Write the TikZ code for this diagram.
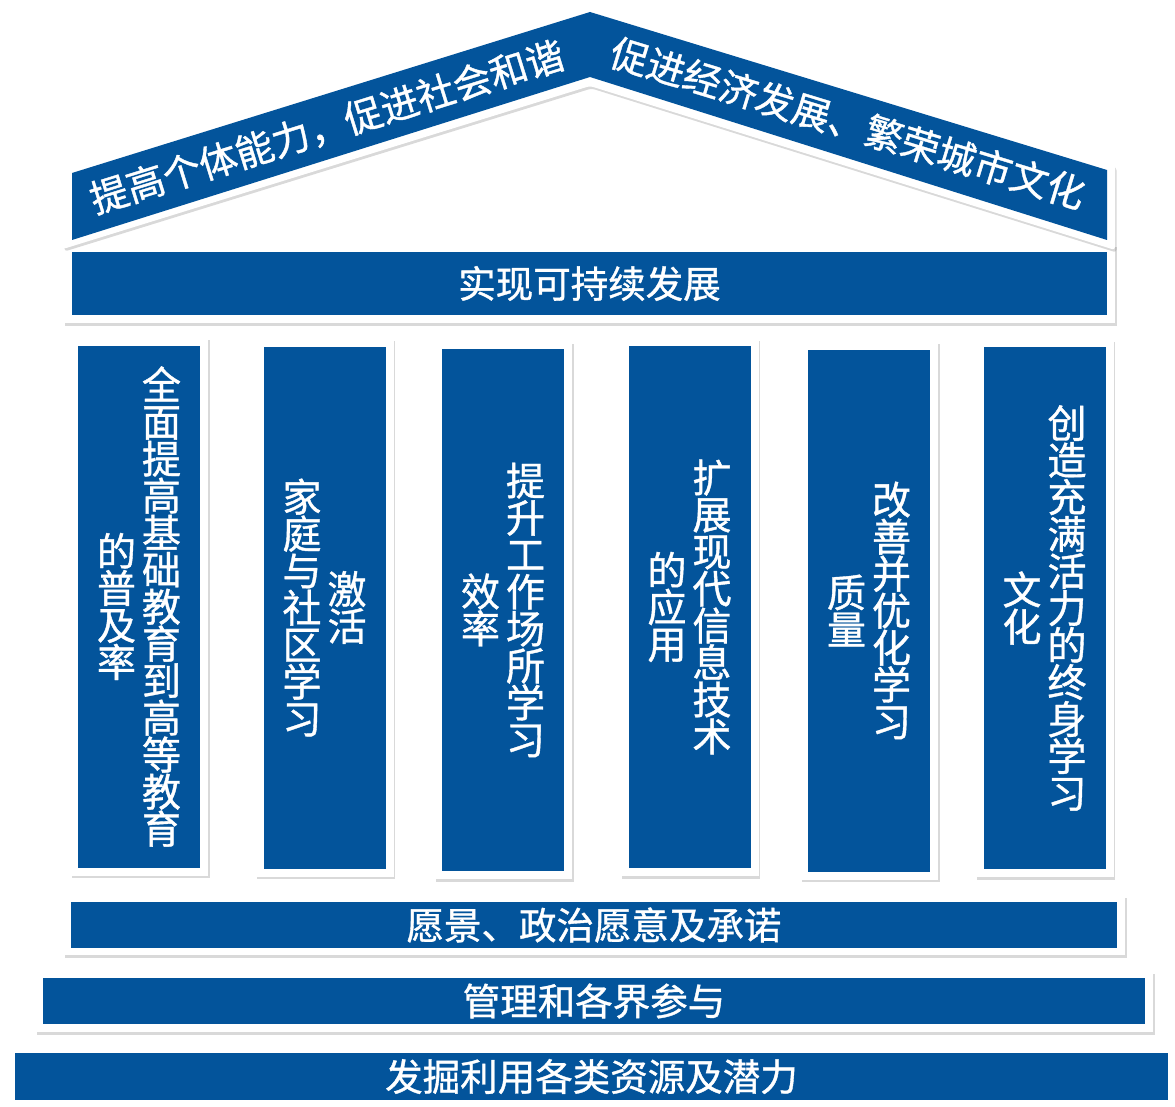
\documentclass[tikz,border=0pt]{standalone}
\usepackage{fontspec}
\newfontfamily\cjk[FakeBold=1]{Noto Sans CJK SC}
\usetikzlibrary{shadows}
\definecolor{pillarblue}{RGB}{3,84,155}
\XeTeXlinebreaklocale "zh"
\XeTeXlinebreakskip=0pt plus 1pt
% one upright column of characters
\newcommand\vcol[1]{\parbox[c]{45pt}{\centering\lineskiplimit=-50pt #1}}

\begin{document}
\begin{tikzpicture}
          [x=1pt,y=-1pt,
            plate/.style={rectangle,fill=white,inner sep=0pt,
              drop shadow={shadow xshift=1.5pt,shadow yshift=-2.5pt,opacity=.3}},
            band/.style={rectangle,fill=pillarblue,text=white,inner sep=0pt,
              font=\cjk\fontsize{37.5}{40}\selectfont},
            pillarplate/.style={plate,minimum width=138,minimum height=538},
            pillar/.style={rectangle,fill=pillarblue,text=white,inner sep=0pt,
              minimum width=122,minimum height=522,font=\cjk\fontsize{39}{37}\selectfont},
            rooftext/.style={text=white,inner sep=0pt,font=\cjk\fontsize{38}{40}\selectfont},
          ]
          \useasboundingbox (0,0) rectangle (1175,1107);

          % top beam
          \node[plate,minimum width=1052,minimum height=78] (fs) at (589,284) {};
          \node[band,minimum width=1035,minimum height=63] (goal) at (589.5,283.5) {实现可持续发展};

          % roof
          \fill[white,rounded corners=3pt,drop shadow={shadow xshift=1.5pt,shadow yshift=-2.5pt,opacity=.3}]
            (63,249) -- (63,167) -- (590,3) -- (1115,165) -- (1115,250) -- (590,86) -- cycle;
          \fill[pillarblue] (72,240) -- (72,173) -- (590,12) -- (1107,170) -- (1107,240) -- (590,77) -- cycle;
          \node[rooftext,rotate=17.3] (roofl) at (327,127) {提高个体能力，促进社会和谐};
          \node[rooftext,rotate=-17] (roofr) at (848,123) {促进经济发展、繁荣城市文化};

          % pillars
          \node[pillarplate] (f1) at (139,606.5) {};
          \node[pillar] (p1) at (f1) {\vcol{的普及率}\vcol{全面提高基础教育到高等教育}};
          \node[pillarplate] (f2) at (324.5,607.5) {};
          \node[pillar] (p2) at (f2) {\vcol{家庭与社区学习}\vcol{激活}};
          \node[pillarplate] (f3) at (503,610) {};
          \node[pillar] (p3) at (f3) {\vcol{效率}\vcol{提升工作场所学习}};
          \node[pillarplate] (f4) at (689.5,607) {};
          \node[pillar] (p4) at (f4) {\vcol{的应用}\vcol{扩展现代信息技术}};
          \node[pillarplate] (f5) at (869,610.5) {};
          \node[pillar] (p5) at (f5) {\vcol{质量}\vcol{改善并优化学习}};
          \node[pillarplate] (f6) at (1044.5,608) {};
          \node[pillar] (p6) at (f6) {\vcol{文化}\vcol{创造充满活力的终身学习}};

          % foundation steps
          \node[plate,minimum width=1062,minimum height=60] (fb1) at (594,925) {};
          \node[band,minimum width=1046,minimum height=46] (vision) at (fb1) {愿景、政治愿意及承诺};
          \node[plate,minimum width=1118,minimum height=61] (fb2) at (594,1001.5) {};
          \node[band,minimum width=1102,minimum height=46] (govern) at (594,1001) {管理和各界参与};
          \node[plate,minimum width=1176,minimum height=66] (fb3) at (595,1079) {};
          \node[band,minimum width=1153,minimum height=47] (resource) at (591.5,1076.5) {发掘利用各类资源及潜力};
        \end{tikzpicture}
\end{document}
